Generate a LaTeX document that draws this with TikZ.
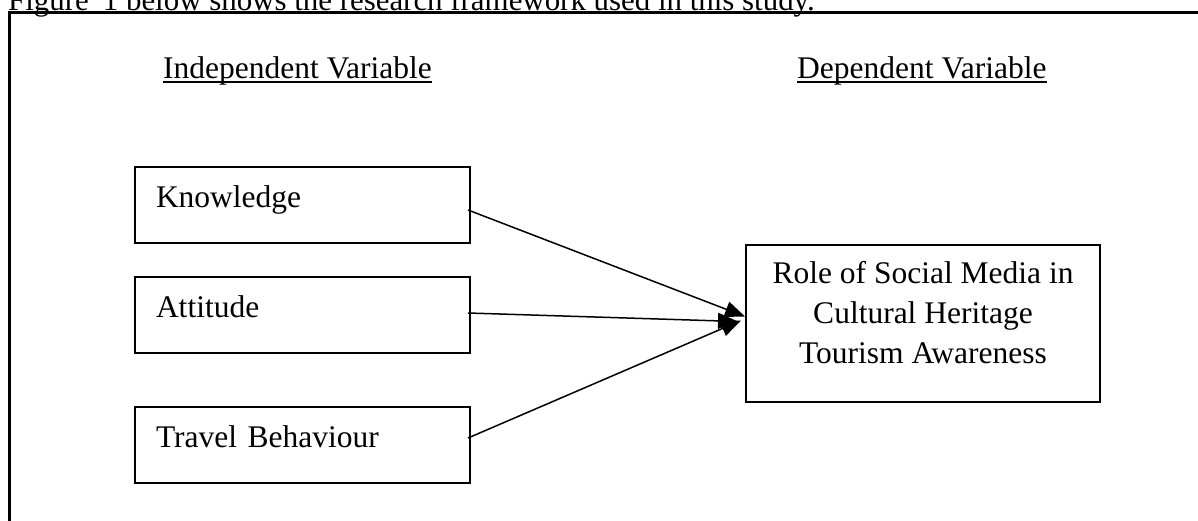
\documentclass[tikz,border=0pt]{standalone}
\usepackage{fontspec}
\setmainfont{Liberation Serif}
\usetikzlibrary{arrows.meta}

\begin{document}
\begin{tikzpicture}[x=1pt, y=-1pt,
  every node/.style={font=\fontsize{31.5}{40}\selectfont},
  heading/.style={anchor=base west, inner sep=0pt},
  ivbox/.style={draw, line width=2pt, minimum width=335pt, minimum height=76pt,
    text width=293pt, inner xsep=21pt, align=left, text height=13pt, text depth=9pt},
  dvbox/.style={draw, line width=2pt, minimum width=354pt, minimum height=157pt,
    align=center, text height=100pt, text depth=20pt},
  link/.style={line width=1.5pt, -{Triangle[length=20pt, width=16pt]}},
  uline/.style={line width=1.8pt}]
  \useasboundingbox (0,0) rectangle (1198,520);

  % caption line above the frame
  \node[heading, font=\fontsize{30.9}{40}\selectfont] (caption) at (8,10)
    {Figure\hspace{14pt}1 below shows the research framework used in this study.};

  % outer frame (runs past the right and bottom edges)
  \draw[line width=2.4pt] (9.5,560) -- (9.5,12.5) -- (1240,12.5);

  % column headings
  \node[heading] (ivhead) at (163,78) {Independent Variable};
  \node[heading] (dvhead) at (797,78) {Dependent Variable};
  \draw[uline] ([yshift=-4pt]ivhead.base west) -- ([yshift=-4pt]ivhead.base east);
  \draw[uline] ([yshift=-4pt]dvhead.base west) -- ([yshift=-4pt]dvhead.base east);

  % independent variables
  \node[ivbox] (know) at (302.5,205) {Knowledge};
  \node[ivbox] (att)  at (302.5,315) {Attitude};
  \node[ivbox] (trav) at (302.5,445) {Travel Behaviour};

  % dependent variable
  \node[dvbox] (role) at (923,323.5) {Role of Social Media in\\Cultural Heritage\\Tourism Awareness};

  % links
  \draw[link] ([xshift=-3pt,yshift=-5pt]know.east) -- ([yshift=7pt]role.west);
  \draw[link] ([xshift=-3pt,yshift=2pt]att.east)   -- ([xshift=-7pt,yshift=2pt]role.west);
  \draw[link] ([xshift=-3pt,yshift=7pt]trav.east)  -- ([xshift=-4pt,yshift=3pt]role.west);
\end{tikzpicture}
\end{document}
